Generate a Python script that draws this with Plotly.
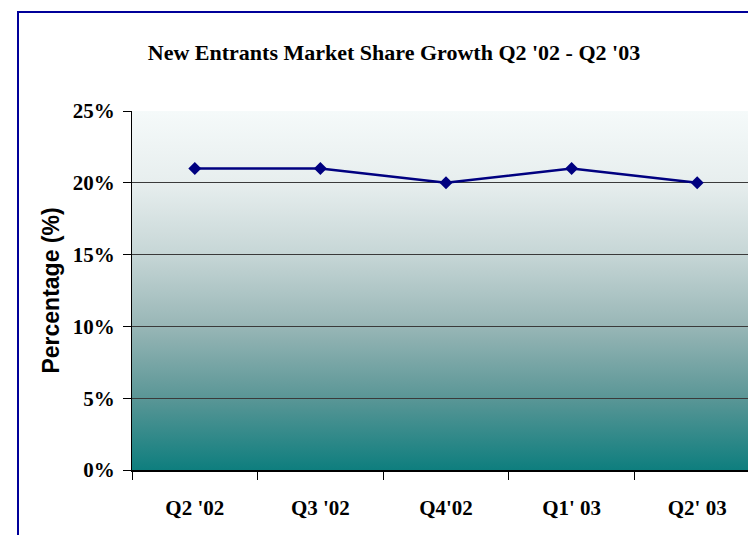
import base64
import plotly.graph_objects as go

categories = ["Q2 '02", "Q3 '02", "Q4'02", "Q1' 03", "Q2' 03"]
share_pct = [21, 21, 20, 21, 20]
y_ticks = [0, 5, 10, 15, 20, 25]

title_text = "New Entrants Market Share Growth Q2 '02 - Q2 '03"
y_title = "Percentage (%)"

# vertical gradient (top -> bottom) for the plot background
stops = [(0.0, "#F5FAFA"), (0.2, "#E7EEEE"), (0.4, "#C6D6D6"),
         (0.6, "#98B6B6"), (0.8, "#5A9696"), (1.0, "#0E7E7E")]
svg = ("<svg xmlns='http://www.w3.org/2000/svg' width='100' height='100' "
       "viewBox='0 0 100 100' preserveAspectRatio='none'><defs>"
       "<linearGradient id='g' x1='0' y1='0' x2='0' y2='1'>"
       + "".join(f"<stop offset='{o}' stop-color='{c}'/>" for o, c in stops)
       + "</linearGradient></defs><rect width='100' height='100' fill='url(#g)'/></svg>")
bg_uri = "data:image/svg+xml;base64," + base64.b64encode(svg.encode()).decode()

fig = go.Figure()
fig.add_trace(go.Scatter(
    x=categories, y=share_pct, mode="lines+markers",
    line=dict(color="#000080", width=2.5),
    marker=dict(symbol="diamond", size=10, color="#000080"),
    showlegend=False, hoverinfo="skip",
))

OFF = 8  # page body margin shifts the figure by 8px
W, H = 756, 535
L, T = 132 - OFF, 111 - OFF
plot_bottom = 470 - OFF
B = H - plot_bottom
plot_w = W - L
plot_h = H - T - B
cat_px = 125.6  # pixel width of one category slot
fig.update_layout(
    width=W, height=H,
    margin=dict(l=L, r=0, t=T, b=B, pad=0),
    paper_bgcolor="white", plot_bgcolor="rgba(0,0,0,0)",
    title=dict(text=title_text, x=(394 - OFF) / W, xref="container", xanchor="center",
               y=1 - (52 - OFF) / H, yref="container", yanchor="middle",
               font=dict(family="Liberation Serif", size=22, color="black", weight="bold")),
    images=[dict(source=bg_uri, xref="paper", yref="paper", x=0, y=1,
                 sizex=1, sizey=1, sizing="stretch", layer="below", xanchor="left", yanchor="top")],
    shapes=[dict(type="rect", xref="paper", yref="paper",
                 x0=(18 - OFF - L) / plot_w, x1=(W + 40 - L) / plot_w,
                 y0=-(H + 40 - plot_bottom) / plot_h, y1=1 + (T - (12 - OFF)) / plot_h,
                 line=dict(color="#000099", width=2), fillcolor="rgba(0,0,0,0)", layer="above")],
)
fig.update_xaxes(
    type="category", range=[-0.5, -0.5 + plot_w / cat_px],
    showgrid=False, ticks="outside", ticklen=8, tickcolor="black", tickwidth=1,
    tickson="boundaries", showline=True, linecolor="black", linewidth=1.5,
    ticklabelstandoff=18,
    tickfont=dict(family="Liberation Serif", size=21, color="black", weight="bold"),
)
fig.update_yaxes(
    range=[0, 25], tickvals=y_ticks, ticktext=[f"{v}%" for v in y_ticks],
    showgrid=True, gridcolor="#3a3a3a", gridwidth=1,
    ticks="outside", ticklen=8, tickcolor="black", tickwidth=1,
    showline=True, linecolor="black", linewidth=1,
    ticklabelstandoff=4,
    tickfont=dict(family="Liberation Serif", size=21, color="black", weight="bold"),
    title=dict(text=y_title, standoff=6,
               font=dict(family="Liberation Sans", size=23, color="black", weight="bold")),
)
fig.write_html("out.html")
